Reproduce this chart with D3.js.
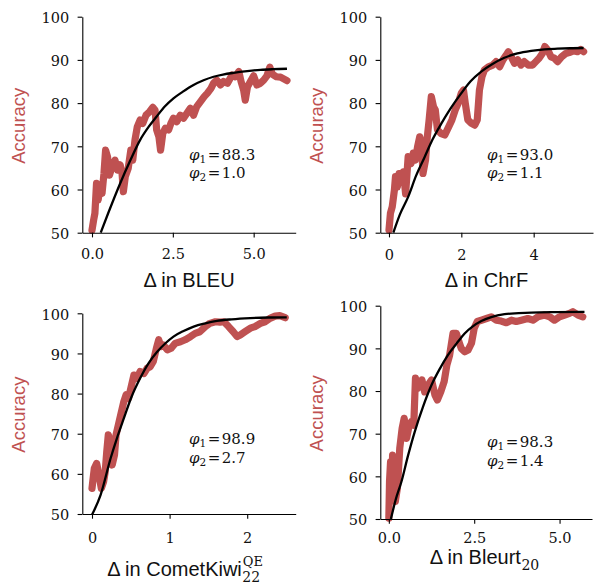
<!DOCTYPE html>
<html><head><meta charset="utf-8">
<script src="https://cdn.jsdelivr.net/npm/d3@7"></script>
<style>body{margin:0;background:#fff}</style>
</head><body><svg id="c" width="598" height="586"></svg>
<script>
// ---------- data (x = Δ in metric, y = accuracy %) ----------
const bleuRaw = [[0,50.6],[0.05,52.9],[0.09,54.5],[0.14,61.4],[0.19,57.6],[0.25,60.6],[0.31,59.1],[0.37,63.7],[0.42,69.1],[0.48,67.6],[0.54,63.3],[0.62,65.3],[0.71,66.8],[0.79,64.5],[0.87,65.7],[0.93,63.7],[0.97,59.5],[1.03,63.0],[1.12,64.9],[1.20,69.1],[1.26,66.8],[1.33,71.5],[1.40,74.5],[1.49,76.1],[1.57,75.3],[1.67,77.2],[1.78,78.0],[1.88,79.0],[1.95,78.4],[2.00,73.8],[2.07,72.2],[2.12,69.1],[2.19,73.0],[2.27,74.2],[2.37,73.8],[2.44,75.3],[2.52,76.5],[2.62,75.7],[2.73,77.2],[2.83,76.5],[2.93,77.6],[3.04,78.8],[3.14,77.2],[3.24,79.2],[3.35,80.3],[3.47,81.5],[3.57,82.3],[3.68,83.4],[3.76,84.6],[3.86,85.3],[3.97,84.2],[4.07,85.0],[4.19,84.6],[4.33,86.5],[4.43,86.1],[4.54,87.3],[4.61,85.0],[4.69,83.0],[4.74,80.7],[4.81,83.8],[4.90,85.0],[5.00,86.3],[5.10,84.2],[5.21,84.6],[5.31,85.3],[5.41,86.3],[5.50,88.3],[5.58,86.7],[5.70,86.1],[5.83,86.0],[5.93,85.6],[6.03,85.2]];
const bleuFit = [[0.27,50],[0.5,54.5],[0.87,61.4],[1.2,67.0],[1.49,71.5],[1.75,74.5],[2.0,76.9],[2.25,79.2],[2.52,81.1],[2.8,82.6],[3.14,84.2],[3.45,85.3],[3.76,86.1],[4.05,86.6],[4.38,87.0],[4.8,87.4],[5.21,87.7],[5.6,87.85],[6.03,87.95]];

const chrfRaw = [[0,50.6],[0.04,54.5],[0.09,56.0],[0.15,59.9],[0.18,63.0],[0.23,60.6],[0.28,63.7],[0.35,62.2],[0.40,64.1],[0.46,59.0],[0.53,67.6],[0.61,66.0],[0.67,68.4],[0.73,66.8],[0.79,69.9],[0.85,72.2],[0.90,70.7],[0.94,63.7],[1.01,66.8],[1.06,72.2],[1.11,76.1],[1.17,81.5],[1.23,79.2],[1.28,78.4],[1.34,73.8],[1.43,73.0],[1.54,72.6],[1.65,74.5],[1.74,76.1],[1.83,78.4],[1.91,79.9],[2.0,82.3],[2.06,83.0],[2.11,79.9],[2.18,76.1],[2.28,75.3],[2.37,74.9],[2.44,76.1],[2.50,83.0],[2.57,86.1],[2.64,87.7],[2.75,88.4],[2.87,88.8],[2.96,89.6],[3.06,88.4],[3.15,90.0],[3.24,91.1],[3.30,91.9],[3.38,90.7],[3.47,89.2],[3.56,90.0],[3.65,88.8],[3.74,89.6],[3.85,88.8],[3.97,88.8],[4.06,89.6],[4.15,90.4],[4.24,91.5],[4.31,93.1],[4.39,92.3],[4.48,90.7],[4.57,90.4],[4.66,89.6],[4.77,90.7],[4.89,91.5],[4.98,91.7],[5.10,92.1],[5.21,91.9],[5.30,92.4],[5.38,91.9]];
const chrfFit = [[0.12,50],[0.3,54.2],[0.53,58.3],[0.75,63.2],[0.99,67.6],[1.2,71.5],[1.45,75.3],[1.7,78.7],[2.0,82.3],[2.25,85.0],[2.55,87.3],[2.85,89.0],[3.19,90.5],[3.55,91.5],[3.93,92.1],[4.3,92.45],[4.66,92.6],[5.0,92.7],[5.38,92.75]];

const kiwiRaw = [[0,56.4],[0.01,58.1],[0.03,61.4],[0.06,62.6],[0.09,59.7],[0.12,56.4],[0.15,58.1],[0.17,60.5],[0.19,65.5],[0.21,69.7],[0.24,68.0],[0.26,62.2],[0.29,64.7],[0.31,69.7],[0.34,72.2],[0.37,74.7],[0.41,78.0],[0.44,79.7],[0.47,78.8],[0.51,82.1],[0.54,84.6],[0.58,83.8],[0.62,85.5],[0.67,85.0],[0.71,86.3],[0.75,86.7],[0.79,88.0],[0.83,91.3],[0.86,93.4],[0.89,91.7],[0.92,92.1],[0.97,90.9],[1.02,91.3],[1.07,92.5],[1.14,92.9],[1.20,93.4],[1.27,94.2],[1.33,95.0],[1.39,95.4],[1.46,96.7],[1.52,97.5],[1.59,97.9],[1.65,97.8],[1.70,97.9],[1.76,96.7],[1.82,95.4],[1.87,94.2],[1.91,94.6],[1.97,95.4],[2.04,96.3],[2.10,96.7],[2.17,97.5],[2.23,97.9],[2.30,98.8],[2.36,99.3],[2.42,99.4],[2.49,98.9]];
const kiwiFit = [[0,49.8],[0.11,54.7],[0.24,63.9],[0.32,68.8],[0.41,73.8],[0.51,79.2],[0.62,83.8],[0.73,87.6],[0.84,90.4],[0.95,92.6],[1.05,94.2],[1.18,95.6],[1.31,96.7],[1.46,97.5],[1.61,98.1],[1.8,98.5],[2.04,98.8],[2.27,98.95],[2.51,99.0]];

const bleurtRaw = [[0,50.2],[0.02,58.8],[0.05,63.4],[0.08,55.6],[0.11,65.0],[0.16,63.4],[0.19,54.1],[0.25,57.2],[0.32,66.6],[0.39,71.3],[0.45,73.6],[0.52,68.9],[0.58,71.3],[0.66,72.8],[0.73,72.0],[0.78,83.0],[0.84,80.6],[0.91,81.4],[0.97,82.6],[1.05,79.8],[1.15,81.4],[1.25,82.6],[1.35,79.1],[1.42,77.9],[1.52,79.8],[1.62,82.2],[1.70,86.1],[1.78,88.4],[1.88,93.5],[1.98,93.5],[2.05,91.6],[2.12,90.0],[2.22,89.2],[2.32,89.6],[2.42,91.2],[2.50,94.7],[2.59,96.3],[2.71,96.6],[2.86,97.0],[3.00,97.4],[3.15,96.6],[3.29,96.4],[3.44,96.0],[3.59,96.6],[3.73,96.3],[3.88,96.6],[4.07,97.0],[4.22,96.6],[4.37,97.4],[4.56,97.8],[4.71,97.4],[4.85,96.6],[5.0,97.4],[5.15,97.8],[5.29,98.2],[5.39,98.6],[5.54,97.8],[5.68,97.4]];
const bleurtFit = [[0.06,50],[0.2,54.5],[0.37,58.8],[0.56,64.8],[0.76,70.5],[1.0,76.3],[1.25,81.4],[1.5,85.3],[1.73,88.4],[2.0,91.3],[2.22,93.5],[2.45,95.1],[2.71,96.4],[3.0,97.3],[3.39,98.0],[3.8,98.25],[4.17,98.4],[4.9,98.5],[5.73,98.55]];

const xLabels = ["Δ in BLEU", "Δ in ChrF", "Δ in CometKiwi", "Δ in Bleurt"];
const xLabelSub = ["", "", "22", "20"];
const xLabelSup = ["", "", "QE", ""];
const xTickValues = [[0, 2.5, 5.0], [0, 2, 4], [0, 1, 2], [0, 2.5, 5.0]];
const xTickFormats = [".1f", "d", "d", ".1f"];
const yTickValues = [50, 60, 70, 80, 90, 100];
const phi1Values = [88.3, 93.0, 98.9, 98.3];
const phi2Values = [1.0, 1.1, 2.7, 1.4];
const yLabel = "Accuracy";

// ---------- layout ----------
const layout = [
  {xd:[-0.3,6.3], xr:[82.3,295.7], yr:[232.7,16.7], tickBase:259.5, labBase:287.3, labX:189, phiX:189, phiY:[159.5,178]},
  {xd:[-0.24,5.64], xr:[380.3,593], yr:[232.7,16.7], tickBase:260, labBase:287.3, labX:486.5, phiX:487, phiY:[159.5,178]},
  {xd:[-0.125,2.625], xr:[82.3,295.7], yr:[514,313.3], tickBase:543, labBase:576, labX:107.3, phiX:189, phiY:[443.5,462.5]},
  {xd:[-0.25,5.95], xr:[380.3,592], yr:[519,305.7], tickBase:543, labBase:564.3, labX:429.7, phiX:487, phiY:[446.5,465.5]}
];
const raws = [bleuRaw, chrfRaw, kiwiRaw, bleurtRaw];
const fits = [bleuFit, chrfFit, kiwiFit, bleurtFit];

const RED = "#bf5151";
const svg = d3.select("#c");
const serif = "'DejaVu Serif', serif";
const sans = "'Liberation Sans', Arial, sans-serif";

layout.forEach((L, i) => {
  const x = d3.scaleLinear().domain(L.xd).range(L.xr);
  const y = d3.scaleLinear().domain([50, 100]).range(L.yr);
  const g = svg.append("g");

  // red raw curve
  g.append("path").datum(raws[i])
    .attr("d", d3.line().x(d => x(d[0])).y(d => y(d[1])).curve(d3.curveLinear))
    .attr("fill", "none").attr("stroke", RED).attr("stroke-width", 7.2)
    .attr("stroke-linejoin", "round").attr("stroke-linecap", "round");
  // black fit
  g.append("path").datum(fits[i])
    .attr("d", d3.line().x(d => x(d[0])).y(d => y(d[1])).curve(d3.curveMonotoneX))
    .attr("fill", "none").attr("stroke", "#000").attr("stroke-width", 2.3);

  // axes
  const xAxis = d3.axisBottom(x).tickValues(xTickValues[i]).tickFormat(d3.format(xTickFormats[i]))
    .tickSize(4.7).tickSizeOuter(0);
  const yAxis = d3.axisLeft(y).tickValues(yTickValues).tickFormat(d3.format("d"))
    .tickSize(4.7).tickSizeOuter(0);
  const gx = g.append("g").attr("transform", `translate(0,${L.yr[0]})`).call(xAxis);
  const gy = g.append("g").attr("transform", `translate(${L.xr[0]},0)`).call(yAxis);
  [gx, gy].forEach(a => {
    a.selectAll("path.domain").attr("stroke", "#000").attr("stroke-width", 1.1);
    a.selectAll(".tick line").attr("stroke", "#000").attr("stroke-width", 1.1);
    a.selectAll("text").attr("font-family", serif).attr("font-size", 14.5).attr("fill", "#111");
  });
  gx.selectAll("text").attr("y", L.tickBase - L.yr[0]).attr("dy", 0);
  gy.selectAll("text").attr("x", -13).attr("dy", "0.4em");

  // y label
  const yc = (L.yr[0] + L.yr[1]) / 2 + 1;
  g.append("text").attr("transform", `translate(${L.xr[0] - 57},${yc}) rotate(-90)`)
    .attr("text-anchor", "middle").attr("font-family", sans).attr("font-size", 18.5)
    .attr("fill", RED).text(yLabel);

  // x label
  const lab = g.append("text").attr("font-family", sans).attr("font-size", 20).attr("fill", "#111")
    .attr("y", L.labBase).text(xLabels[i]);
  if (xLabelSub[i] || xLabelSup[i]) {
    lab.attr("x", L.labX).attr("text-anchor", "start");
    const w = lab.node().getComputedTextLength();
    if (xLabelSub[i]) g.append("text").attr("x", L.labX + w + 0.5).attr("y", L.labBase + 6)
      .attr("font-family", serif).attr("font-size", 14).attr("fill", "#111").text(xLabelSub[i]);
    if (xLabelSup[i]) g.append("text").attr("x", L.labX + w + 1).attr("y", L.labBase - 10)
      .attr("font-family", serif).attr("font-size", 13).attr("fill", "#111").text(xLabelSup[i]);
  } else {
    lab.attr("x", L.labX).attr("text-anchor", "middle");
  }

  // phi annotations
  [[phi1Values[i], "1"], [phi2Values[i], "2"]].forEach((p, k) => {
    const t = g.append("text").attr("x", L.phiX).attr("y", L.phiY[k])
      .attr("font-family", serif).attr("font-size", 15).attr("fill", "#111");
    t.append("tspan").attr("font-style", "italic").text("φ");
    t.append("tspan").attr("font-size", 10.5).attr("dy", 3).text(p[1]);
    t.append("tspan").attr("dy", -3).attr("dx", 1.5).text("=");
    t.append("tspan").attr("dx", 1.5).text(d3.format(".1f")(p[0]));
  });
});
</script>
</body></html>
